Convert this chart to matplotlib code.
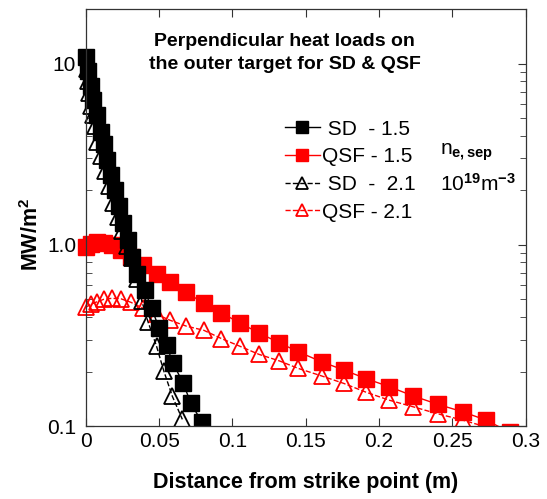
import numpy as np
import matplotlib
matplotlib.use('Agg')
import matplotlib.pyplot as plt
from matplotlib.patches import Rectangle
from matplotlib.ticker import LogLocator, NullFormatter

plt.rcParams['font.family'] = ['Liberation Sans', 'DejaVu Sans']
plt.rcParams['mathtext.fontset'] = 'custom'
plt.rcParams['mathtext.rm'] = 'Liberation Sans'
plt.rcParams['mathtext.bf'] = 'Liberation Sans:bold'
plt.rcParams['mathtext.it'] = 'Liberation Sans:italic'

# SD, n_e,sep = 1.5
sd15_x = [0.0, 0.0017, 0.0034, 0.0051, 0.0075, 0.0100, 0.0123, 0.0145, 0.0170,
          0.0198, 0.0225, 0.0254, 0.0288, 0.0317, 0.0346, 0.0402, 0.0448, 0.0500,
          0.0550, 0.0595, 0.0663, 0.0716, 0.0789]
sd15_y = [10.8, 9.14, 7.56, 6.26, 5.17, 4.18, 3.61, 2.92, 2.42,
          2.00, 1.64, 1.32, 1.07, 0.853, 0.687, 0.561, 0.447, 0.347,
          0.279, 0.222, 0.173, 0.134, 0.106]

# SD, n_e,sep = 2.1
sd21_x = [0.0007, 0.0014, 0.0024, 0.0034, 0.0048, 0.0061, 0.0075, 0.0102, 0.0130,
          0.0157, 0.0184, 0.0218, 0.0245, 0.0279, 0.0314, 0.0348, 0.0382, 0.0425,
          0.0482, 0.0532, 0.0590, 0.0658]
sd21_y = [9.38, 8.05, 6.84, 5.87, 5.17, 4.50, 3.69, 3.11, 2.57,
          2.10, 1.71, 1.42, 1.19, 0.99, 0.843, 0.646, 0.489, 0.374,
          0.276, 0.201, 0.146, 0.109]

# QSF runs share one grid
qsf_x = [0.0, 0.0034, 0.0075, 0.0123, 0.0177, 0.0239, 0.0307, 0.039, 0.0482,
         0.0573, 0.0686, 0.0804, 0.0925, 0.105, 0.118, 0.132, 0.145, 0.161,
         0.176, 0.191, 0.207, 0.223, 0.240, 0.257, 0.273, 0.289]
qsf15_y = [0.969, 1.006, 1.032, 1.03, 0.994, 0.933, 0.853, 0.771, 0.693,
           0.624, 0.547, 0.476, 0.421, 0.371, 0.327, 0.288, 0.257, 0.226,
           0.204, 0.183, 0.165, 0.147, 0.132, 0.120, 0.108, 0.0927]
qsf21_y = [0.453, 0.470, 0.485, 0.501, 0.507, 0.504, 0.482, 0.447, 0.414,
           0.384, 0.356, 0.338, 0.304, 0.276, 0.249, 0.229, 0.208, 0.189,
           0.172, 0.154, 0.139, 0.128, 0.117, 0.108, 0.099, 0.088]

xticks = [0, 0.05, 0.1, 0.15, 0.2, 0.25, 0.3]
xticklabels = ['0', '0.05', '0.1', '0.15', '0.2', '0.25', '0.3']
yticks = [0.1, 1.0, 10]
yticklabels = ['0.1', '1.0', '10']

fig = plt.figure(figsize=(5.47, 4.99), dpi=100)
ax = fig.add_axes([0.157, 0.146, 0.804, 0.836])

red = '#ff0000'
lines = []
lines += ax.plot(qsf_x, qsf21_y, '--', color=red, lw=1.0, marker='^', ms=12,
                 mfc='none', mec=red, mew=1.3, label='QSF - 2.1')
lines += ax.plot(qsf_x, qsf15_y, '-', color=red, lw=1.0, marker='s', ms=11.5,
                 mfc=red, mec=red, label='QSF - 1.5')
lines += ax.plot(sd21_x, sd21_y, '--', color='black', lw=1.0, marker='^', ms=12,
                 mfc='none', mec='black', mew=1.3, label=' SD  -  2.1')
lines += ax.plot(sd15_x, sd15_y, '-', color='black', lw=1.0, marker='s', ms=11.5,
                 mfc='black', mec='black', label=' SD  - 1.5')

# markers may spill over the left/top edge, but not below the bottom
clip = Rectangle((-0.05, 0.0), 1.1, 1.1, transform=ax.transAxes, visible=False)
ax.add_patch(clip)
for ln in lines:
    ln.set_clip_path(clip)

ax.set_yscale('log')
ax.set_xlim(0, 0.3)
ax.set_ylim(0.1, 20)
ax.set_xticks(xticks)
ax.set_xticklabels(xticklabels)
ax.set_yticks(yticks)
ax.set_yticklabels(yticklabels)
ax.yaxis.set_minor_locator(LogLocator(base=10, subs=np.arange(2, 10)))
ax.yaxis.set_minor_formatter(NullFormatter())
ax.tick_params(which='both', direction='in', top=True, right=True, color='#333333')
ax.tick_params(which='major', length=6, labelsize=15, pad=7)
ax.tick_params(axis='x', which='major', pad=4)
ax.tick_params(which='minor', length=4)
ax.tick_params(axis='x', which='minor', bottom=False, top=False)
for s in ax.spines.values():
    s.set_color('#333333')
    s.set_linewidth(0.9)

ax.set_xlabel('Distance from strike point (m)', fontsize=15.5, fontweight='bold',
              labelpad=15)
ax.set_ylabel(r'MW/m$^\mathbf{2}$', fontsize=15.5, fontweight='bold')
ax.yaxis.set_label_coords(-0.098, 0.46)

ax.text(0.452, 0.895, 'Perpendicular heat loads on\nthe outer target for SD & QSF',
        transform=ax.transAxes, ha='center', va='center', fontsize=14,
        fontweight='bold', linespacing=1.45)

handles, labels = ax.get_legend_handles_labels()
order = [3, 1, 2, 0]
ax.legend([handles[i] for i in order], [labels[i] for i in order],
          loc='upper left', bbox_to_anchor=(0.452, 0.735), frameon=False,
          fontsize=15, handlelength=1.7, handletextpad=0.1, labelspacing=0.42,
          borderpad=0, borderaxespad=0, markerscale=0.7, numpoints=1)

ax.text(0.805, 0.657, r'n$_{\mathbf{e,sep}}$', transform=ax.transAxes,
        ha='left', va='center', fontsize=15)
ax.text(0.805, 0.58, r'10$^{\mathbf{19}}$m$^{\mathbf{-3}}$', transform=ax.transAxes,
        ha='left', va='center', fontsize=15)

fig.savefig('out.png', dpi=100)
